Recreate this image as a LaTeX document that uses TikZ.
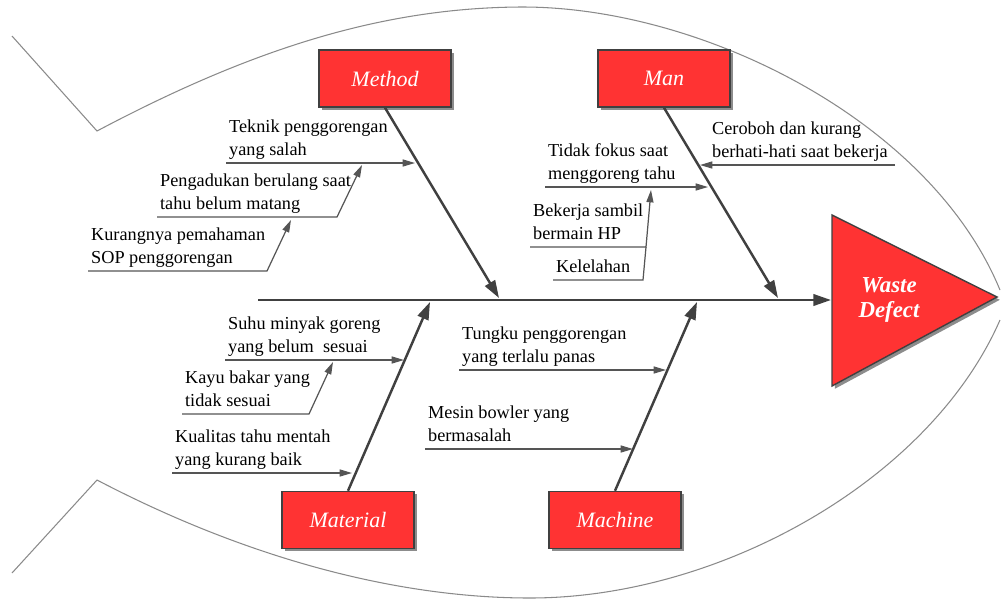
\documentclass[tikz,border=0pt]{standalone}
\usepackage{fontspec}
\setmainfont{Liberation Serif}
\usetikzlibrary{positioning,calc,arrows.meta,shadows}
\definecolor{fishRed}{HTML}{FF3333}
\definecolor{fishLine}{HTML}{404040}
\definecolor{fishSub}{HTML}{555555}
\definecolor{fishBody}{HTML}{8A8A8A}
\tikzset{
  category box/.style={
    rectangle, draw=fishLine, fill=fishRed, line width=0.8pt,
    minimum width=2.64cm, minimum height=1.14cm,
    text=white, font=\itshape\fontsize{12.5}{15}\selectfont,
    drop shadow={shadow xshift=1.6pt, shadow yshift=-1.6pt, fill=black!45, opacity=1},
  },
  cause/.style={
    anchor=south west, align=left, inner xsep=1.6pt, inner ysep=0.4pt,
    font=\fontsize{10.4}{13}\selectfont, execute at end node=\strut,
  },
  bone/.style={draw=fishLine, line width=1.4pt, -{Triangle[length=10pt,width=6.5pt]}},
  sub arrow/.style={draw=fishSub, line width=0.7pt, -{Triangle[length=7pt,width=4pt]}},
  sub line/.style={draw=fishSub, line width=0.7pt},
  fish body/.style={draw=fishBody, line width=0.6pt},
}

\begin{document}
\begin{tikzpicture}[x=0.02cm, y=-0.02cm]
\useasboundingbox (0,0) rectangle (1002,600);

%% fish outline
\draw[fish body] (12,36) -- (97,131) .. controls (250,50) and (380,8) .. (520,7)
  .. controls (700,6) and (930,120) .. (1000,290);
\draw[fish body] (12,573) -- (97,480) .. controls (250,560) and (400,598) .. (530,598)
  .. controls (720,598) and (930,480) .. (1000,320);

%% head (effect)
\fill[fishRed, draw=fishLine, line width=0.8pt,
  drop shadow={shadow xshift=1.6pt, shadow yshift=-1.6pt, fill=black!45, opacity=1}]
  (832,215) -- (997,297) -- (832,386) -- cycle;
\node[text=white, font=\bfseries\itshape\fontsize{13}{14.7}\selectfont, align=center]
  (defect) at (889,300) {Waste\\Defect};

%% categories
\node[category box] (method)   at (385,78.5) {Method};
\node[category box] (man)      at (664,78.5) {Man};
\node[category box] (material) at (348,520)  {Material};
\node[category box] (machine)  at (615,520)  {Machine};

%% spine and bones
\coordinate (spine) at (258,300);
\coordinate (head)  at (831,300);
\coordinate (mtTip) at (499,298);
\coordinate (mnTip) at (778,298);
\coordinate (maTip) at (430,302);
\coordinate (mcTip) at (697,302);
\draw[bone] (spine) -- (head);
\draw[bone] (method.south)   -- (mtTip);
\draw[bone] (man.south)      -- (mnTip);
\draw[bone] (material.north) -- (maTip);
\draw[bone] (machine.north)  -- (mcTip);

%% Method causes
\node[cause] (teknik) at (226,163) {Teknik penggorengan\\yang salah};
\node[cause] (aduk)   at (157,217) {Pengadukan berulang saat\\tahu belum matang};
\node[cause] (sop)    at (88,271)  {Kurangnya pemahaman\\SOP penggorengan};
\coordinate (mt1) at (415,163);
\coordinate (ad2) at (337,217);
\coordinate (ad3) at (362,165);
\coordinate (so2) at (267,271);
\coordinate (so3) at (291,220);
\draw[sub arrow] (teknik.south west) -- (mt1);
\draw[sub arrow] (aduk.south west) -- (ad2) -- (ad3);
\draw[sub arrow] (sop.south west) -- (so2) -- (so3);

%% Man causes
\node[cause] (ceroboh) at (709,165) {Ceroboh dan kurang\\berhati-hati saat bekerja};
\node[cause] (fokus)   at (545,187) {Tidak fokus saat\\menggoreng tahu};
\node[cause] (hp)      at (530,247) {Bekerja sambil\\bermain HP};
\node[cause] (lelah)   at (553,280) {Kelelahan};
\coordinate (cr1) at (895,165);
\coordinate (mn1) at (700,165);
\coordinate (mn2) at (708,187);
\coordinate (hp2) at (646,247);
\coordinate (hp3) at (651,190);
\coordinate (le2) at (643,280);
\draw[sub arrow] (cr1) -- (mn1);
\draw[sub arrow] (fokus.south west) -- (mn2);
\draw[sub arrow] (hp.south west) -- (hp2) -- (hp3);
\draw[sub line] (lelah.south west) -- (le2) -- (hp2);

%% Material causes
\node[cause] (suhu)     at (225,360) {Suhu minyak goreng\\yang belum\ \ sesuai};
\node[cause] (kayu)     at (182,414) {Kayu bakar yang\\tidak sesuai};
\node[cause] (kualitas) at (172,473) {Kualitas tahu mentah\\yang kurang baik};
\coordinate (ma1) at (404,360);
\coordinate (ka2) at (309,414);
\coordinate (ka3) at (333,362);
\coordinate (ma2) at (352,473);
\draw[sub arrow] (suhu.south west) -- (ma1);
\draw[sub arrow] (kayu.south west) -- (ka2) -- (ka3);
\draw[sub arrow] (kualitas.south west) -- (ma2);

%% Machine causes
\node[cause] (tungku) at (459,370) {Tungku penggorengan\\yang terlalu panas};
\node[cause] (mesin)  at (425,449) {Mesin bowler yang\\bermasalah};
\coordinate (mc1) at (666,370);
\coordinate (mc2) at (633,449);
\draw[sub arrow] (tungku.south west) -- (mc1);
\draw[sub arrow] (mesin.south west) -- (mc2);

\end{tikzpicture}
\end{document}
